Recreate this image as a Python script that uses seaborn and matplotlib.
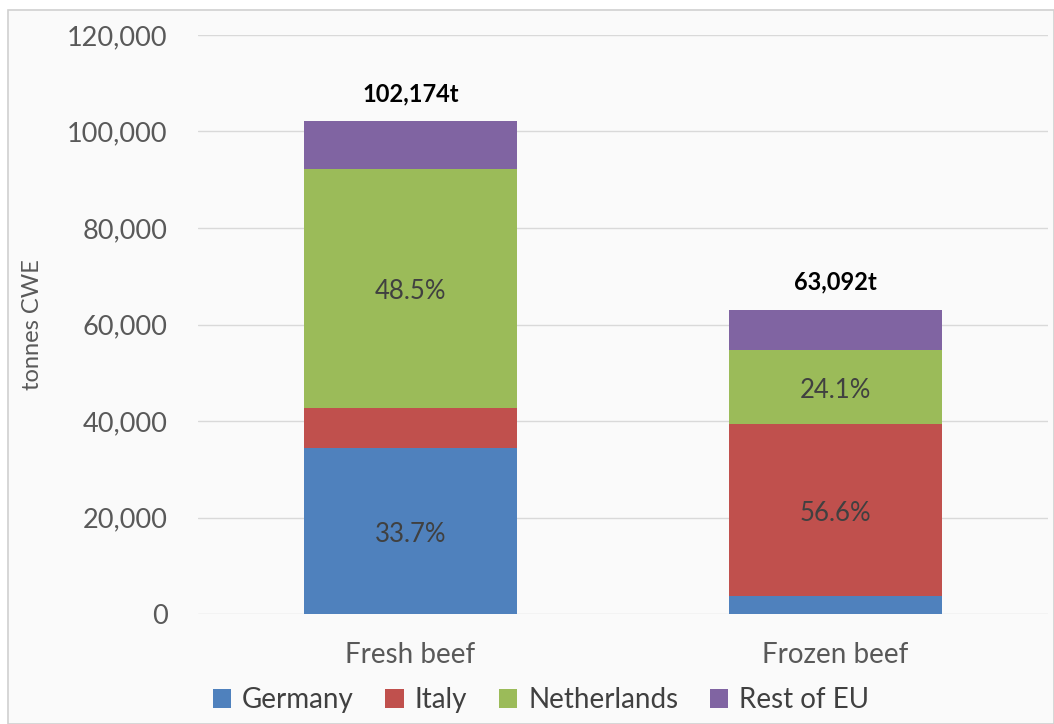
import matplotlib
matplotlib.use("Agg")
import matplotlib.pyplot as plt
import seaborn as sns
import pandas as pd
from matplotlib.patches import Rectangle, Patch
from matplotlib.ticker import FuncFormatter

categories = ["Fresh beef", "Frozen beef"]
series = ["Germany", "Italy", "Netherlands", "Rest of EU"]
germany = [34433, 3700]
italy = [8300, 35710]
netherlands = [49554, 15205]
rest_eu = [9887, 8477]
totals_label = ["102,174t", "63,092t"]
pct_labels = {("Fresh beef", "Germany"): "33.7%", ("Fresh beef", "Netherlands"): "48.5%",
              ("Frozen beef", "Italy"): "56.6%", ("Frozen beef", "Netherlands"): "24.1%"}
colors = ["#4F81BD", "#C0504D", "#9BBB59", "#8064A2"]

sns.set_theme(style="white")
plt.rcParams["font.family"] = ["Lato", "DejaVu Sans"]

fig = plt.figure(figsize=(10.54, 7.24), dpi=100)
fig.patch.set_facecolor("white")
fig.patches.append(Rectangle((8/1054, 0), 1 - 8/1054, 1 - 10/724, transform=fig.transFigure,
                             facecolor="#FAFAFA", edgecolor="#D0D0D0", linewidth=1.2, zorder=-10))
ax = fig.add_axes([198/1054, 1 - 614/724, 850/1054, (614 - 35)/724])
ax.set_facecolor("none")

df = pd.DataFrame({"cat": categories, "Germany": germany, "Italy": italy,
                   "Netherlands": netherlands, "Rest of EU": rest_eu})
cums = []
run = [0, 0]
for s in series:
    run = [r + v for r, v in zip(run, df[s].tolist())]
    cums.append(list(run))
for s, c, cum in reversed(list(zip(series, colors, cums))):
    sns.barplot(x=categories, y=cum, color=c, width=0.503, ax=ax, saturation=1,
                linewidth=0, zorder=3)

starts = [[0, 0]] + cums[:-1]
for i, cat in enumerate(categories):
    for j, s in enumerate(series):
        key = (cat, s)
        if key in pct_labels:
            mid = (starts[j][i] + cums[j][i]) / 2 - 700
            ax.text(i, mid, pct_labels[key], ha="center", va="center", fontsize=18.5,
                    color="#404040", zorder=5)
    ax.text(i, cums[-1][i] + 3300, totals_label[i], ha="center", va="bottom",
            fontsize=17, fontweight="bold", color="black", zorder=5)

ax.set_ylim(0, 120000)
ax.set_xlim(-0.5, 1.5)
ax.set_yticks(range(0, 120001, 20000))
ax.yaxis.set_major_formatter(FuncFormatter(lambda v, p: f"{int(v):,}"))
ax.grid(axis="y", color="#D9D9D9", linewidth=1, zorder=0)
ax.set_axisbelow(True)
for sp in ax.spines.values():
    sp.set_visible(False)
ax.tick_params(axis="y", labelsize=19.5, labelcolor="#595959", pad=22, length=0)
ax.tick_params(axis="x", labelsize=20, labelcolor="#595959", pad=20, length=0)
ax.set_ylabel("tonnes CWE", fontsize=17, color="#595959")
ax.yaxis.set_label_coords(-155/850, 0.5)
ax.set_xlabel("")

handles = [Patch(facecolor=c, edgecolor="none") for c in colors]
fig.legend(handles, series, loc="center", bbox_to_anchor=(541/1054, 1 - 700/724), ncol=4,
           frameon=False, fontsize=20, handlelength=0.65, handleheight=0.65,
           handletextpad=0.4, columnspacing=1.15, labelcolor="#404040")

fig.savefig("out.png", dpi=100, facecolor=fig.get_facecolor())
